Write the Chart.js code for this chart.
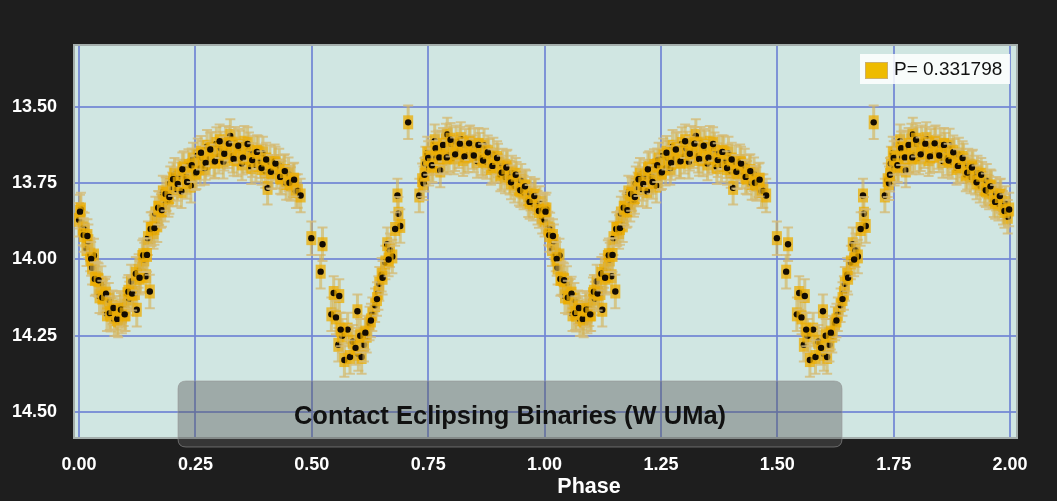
<!DOCTYPE html>
<html>
<head>
<meta charset="utf-8">
<script src="https://cdn.jsdelivr.net/npm/chart.js@4.4.0/dist/chart.umd.min.js"></script>
<style>
  html, body { margin: 0; padding: 0; background: #1e1e1e; }
  #wrap { width: 1057px; height: 501px; }
</style>
</head>
<body>
<div id="wrap"><canvas id="c" width="1057" height="501"></canvas></div>
<script>
// ---- Data (one cycle) ----
const phaseCycle = [
  0.000,0.004,0.008,0.012,0.016,0.020,0.024,0.028,0.032,0.036,
  0.040,0.044,0.048,0.052,0.056,0.060,0.064,0.068,0.072,0.076,
  0.080,0.084,0.088,0.092,0.096,0.100,0.104,0.108,0.112,0.116,
  0.120,0.124,0.128,0.132,0.136,0.140,0.144,0.148,0.152,0.156,
  0.160,0.164,0.168,0.172,0.176,0.180,0.184,0.188,0.192,0.196,
  0.200,0.205,0.210,0.215,0.220,0.225,0.230,0.235,0.240,0.245,
  0.250,0.255,0.260,0.265,0.270,0.275,0.280,0.285,0.290,0.295,
  0.300,0.305,0.310,0.315,0.320,0.325,0.330,0.335,0.340,0.345,
  0.350,0.355,0.360,0.365,0.370,0.375,0.380,0.385,0.390,0.395,
  0.400,0.405,0.410,0.415,0.420,0.425,0.430,0.435,0.440,0.445,
  0.450,0.455,0.460,0.466,0.470,0.476,
  0.499,0.519,0.523,0.542,0.547,0.557,0.559,0.565,0.570,0.577,
  0.588,0.598,0.600,0.607,0.612,0.618,0.624,0.630,0.636,0.643,
  0.645,0.650,0.658,0.662,0.668,0.673,0.684,0.686,0.690,0.707,
  0.731,0.737,
  0.740,0.744,0.748,0.752,0.756,0.760,0.764,0.768,0.772,0.776,
  0.780,0.784,0.788,0.791,0.795,0.800,0.805,0.810,0.815,0.820,
  0.825,0.830,0.835,0.840,0.845,0.850,0.855,0.860,0.865,0.870,
  0.875,0.880,0.885,0.890,0.895,0.900,0.905,0.910,0.915,0.920,
  0.925,0.930,0.935,0.940,0.945,0.950,0.955,0.960,0.965,0.970,
  0.975,0.980,0.985,0.990,0.995,
  0.002,0.010,0.018,0.026,0.034,0.042,0.050,0.058,0.066,0.074,
  0.082,0.090,0.098,0.106,0.114,0.122,0.130,0.138,0.146,0.154,
  0.162,0.170,0.178,0.186,0.194,0.202,0.212,0.222,0.232,0.242,
  0.252,0.262,0.272,0.282,0.292,0.302,0.312,0.322,0.332,0.342,
  0.352,0.362,0.372,0.382,0.392,0.402,0.412,0.422,0.432,0.442,
  0.452,0.462,
  0.552,0.562,0.582,0.594,0.604,0.615,0.627,0.640,0.652,0.665,
  0.679,
  0.742,0.750,0.758,0.766,0.774,0.782,0.790,0.798,0.808,0.818,
  0.828,0.838,0.848,0.858,0.868,0.878,0.888,0.898,0.908,0.918,
  0.928,0.938,0.948,0.958,0.968,0.978,0.988,0.998
];
const magCycle = [
  13.870,13.836,13.898,13.902,13.966,13.940,13.984,14.027,13.987,14.061,
  14.065,14.121,14.077,14.123,14.119,14.180,14.132,14.181,14.157,14.196,
  14.175,14.200,14.158,14.187,14.163,14.180,14.114,14.128,14.072,14.112,
  14.110,14.165,14.038,14.052,13.992,14.000,14.055,13.930,14.105,13.900,
  13.910,13.849,13.888,13.832,13.841,13.780,13.820,13.785,13.805,13.750,
  13.770,13.722,13.770,13.728,13.776,13.700,13.729,13.693,13.758,13.672,
  13.717,13.658,13.702,13.666,13.700,13.630,13.670,13.637,13.679,13.621,
  13.663,13.636,13.679,13.617,13.645,13.595,13.660,13.620,13.672,13.633,
  13.685,13.617,13.660,13.638,13.697,13.651,13.690,13.649,13.678,13.652,
  13.710,13.765,13.680,13.714,13.678,13.712,13.692,13.732,13.712,13.749,
  13.720,13.752,13.740,13.776,13.775,13.790,
  13.930,14.040,13.950,14.180,14.110,14.280,14.120,14.250,14.330,14.230,
  14.270,14.170,14.310,14.320,14.280,14.250,14.210,14.180,14.150,14.110,
  14.080,14.050,14.010,13.950,13.970,13.990,13.790,13.850,13.890,13.550,
  13.790,13.740,
  13.750,13.685,13.652,13.702,13.664,13.693,13.612,13.667,13.632,13.708,
  13.635,13.662,13.610,13.590,13.658,13.621,13.665,13.615,13.645,13.605,
  13.671,13.627,13.658,13.615,13.647,13.625,13.677,13.640,13.668,13.626,
  13.680,13.660,13.700,13.656,13.693,13.675,13.721,13.692,13.728,13.695,
  13.732,13.715,13.758,13.735,13.768,13.742,13.780,13.763,13.806,13.784,
  13.817,13.790,13.830,13.815,13.860,
  13.843,13.920,13.923,13.998,14.064,14.068,14.125,14.112,14.176,14.159,
  14.195,14.165,14.180,14.106,14.112,14.047,14.060,13.986,13.985,13.900,
  13.897,13.830,13.838,13.785,13.795,13.737,13.752,13.704,13.746,13.691,
  13.714,13.650,13.683,13.639,13.678,13.612,13.653,13.620,13.670,13.627,
  13.666,13.621,13.674,13.647,13.700,13.672,13.712,13.685,13.729,13.710,
  13.748,13.738,
  14.190,14.230,14.320,14.290,14.250,14.240,14.200,14.130,14.060,14.000,
  13.900,
  13.722,13.667,13.691,13.635,13.665,13.624,13.665,13.607,13.655,13.620,
  13.662,13.619,13.659,13.624,13.675,13.648,13.693,13.667,13.715,13.698,
  13.747,13.722,13.773,13.760,13.811,13.792,13.841,13.836
];
const cycleOffsets = [0, 1];
const magError = 0.055;
const xTicks = [0, 0.25, 0.5, 0.75, 1, 1.25, 1.5, 1.75, 2];
const yTicks = [13.5, 13.75, 14, 14.25, 14.5];
const seriesLabel = 'P= 0.331798';
const classLabel = 'Contact Eclipsing Binaries (W UMa)';
const xTitle = 'Phase';

const points = [];
cycleOffsets.forEach(off => {
  phaseCycle.forEach((p, i) => points.push({ x: p + off, y: magCycle[i] }));
});

const FONT = '"Liberation Sans", Arial, sans-serif';

const bgPlugin = {
  id: 'bg',
  beforeDraw(chart) {
    const { ctx, chartArea: a } = chart;
    ctx.save();
    ctx.fillStyle = '#1e1e1e';
    ctx.fillRect(0, 0, chart.width, chart.height);
    ctx.fillStyle = '#d0e6e2';
    ctx.fillRect(a.left, a.top, a.right - a.left, a.bottom - a.top);
    ctx.restore();
  },
  beforeDatasetsDraw(chart) {
    const { ctx, chartArea: a } = chart;
    ctx.save();
    ctx.strokeStyle = '#a4aeac';
    ctx.lineWidth = 2;
    ctx.strokeRect(a.left + 1, a.top + 1, a.right - a.left - 2, a.bottom - a.top - 2);
    ctx.restore();
  }
};

// draws each point's error bar, then the library's point element, in data order
const errPlugin = {
  id: 'errbars',
  beforeDatasetDraw(chart, args) {
    const { ctx } = chart;
    const ys = chart.scales.y;
    const a = chart.chartArea;
    const ds = chart.data.datasets[args.index];
    ctx.save();
    ctx.beginPath();
    ctx.rect(a.left, a.top, a.right - a.left, a.bottom - a.top);
    ctx.clip();
    args.meta.data.forEach((el, i) => {
      const v = ds.data[i].y;
      const px = el.x, py = el.y;
      const y1 = ys.getPixelForValue(v - magError);
      const y2 = ys.getPixelForValue(v + magError);
      ctx.strokeStyle = 'rgba(214,178,80,0.6)';
      ctx.lineWidth = 3;
      ctx.beginPath(); ctx.moveTo(px, y1); ctx.lineTo(px, y2); ctx.stroke();
      ctx.strokeStyle = 'rgba(212,188,120,0.8)';
      ctx.lineWidth = 2;
      ctx.beginPath();
      ctx.moveTo(px - 5, y1); ctx.lineTo(px + 5, y1);
      ctx.moveTo(px - 5, y2); ctx.lineTo(px + 5, y2);
      ctx.stroke();
      ctx.fillStyle = 'rgba(236,172,0,0.75)';
      ctx.fillRect(px - 5, py - 7, 10, 14);
      el.draw(ctx, a);
    });
    ctx.restore();
    return false;
  }
};

const overlayPlugin = {
  id: 'overlay',
  afterDraw(chart) {
    const { ctx } = chart;
    ctx.save();
    // class label box
    const bx = 178, by = 381, bw = 664, bh = 66, r = 8;
    ctx.beginPath();
    ctx.moveTo(bx + r, by);
    ctx.lineTo(bx + bw - r, by); ctx.quadraticCurveTo(bx + bw, by, bx + bw, by + r);
    ctx.lineTo(bx + bw, by + bh - r); ctx.quadraticCurveTo(bx + bw, by + bh, bx + bw - r, by + bh);
    ctx.lineTo(bx + r, by + bh); ctx.quadraticCurveTo(bx, by + bh, bx, by + bh - r);
    ctx.lineTo(bx, by + r); ctx.quadraticCurveTo(bx, by, bx + r, by);
    ctx.closePath();
    ctx.fillStyle = 'rgba(88,88,88,0.42)';
    ctx.fill();
    ctx.strokeStyle = 'rgba(150,150,150,0.6)';
    ctx.lineWidth = 1;
    ctx.stroke();
    ctx.fillStyle = '#111';
    ctx.font = 'bold 25.5px ' + FONT;
    ctx.textAlign = 'center';
    ctx.textBaseline = 'middle';
    ctx.fillText(classLabel, 510, 417);

    // legend
    ctx.fillStyle = 'rgba(255,255,255,0.85)';
    ctx.fillRect(860, 54, 150, 30);
    ctx.fillStyle = '#eebb00';
    ctx.fillRect(865, 62, 23, 17);
    ctx.strokeStyle = '#cdb06a';
    ctx.lineWidth = 1;
    ctx.strokeRect(865.5, 62.5, 22, 16);
    ctx.fillStyle = '#111';
    ctx.font = '19px ' + FONT;
    ctx.textAlign = 'left';
    ctx.fillText(chart.data.datasets[0].label, 894, 70);

    // x title
    ctx.fillStyle = '#ffffff';
    ctx.font = 'bold 21.5px ' + FONT;
    ctx.textAlign = 'center';
    ctx.fillText(xTitle, 589, 487);
    ctx.restore();
  }
};

new Chart(document.getElementById('c'), {
  type: 'scatter',
  data: {
    datasets: [{
      label: seriesLabel,
      data: points,
      pointRadius: 3.2,
      pointHoverRadius: 3.2,
      pointBackgroundColor: '#140c02',
      pointBorderWidth: 0,
      pointBorderColor: 'rgba(0,0,0,0)'
    }]
  },
  options: {
    responsive: false,
    animation: false,
    devicePixelRatio: 1,
    layout: { padding: { top: 44, right: 39, left: 0, bottom: 0 } },
    plugins: { legend: { display: false }, tooltip: { enabled: false } },
    scales: {
      x: {
        type: 'linear',
        min: -0.013, max: 2.017,
        afterBuildTicks: ax => { ax.ticks = xTicks.map(v => ({ value: v })); },
        afterFit: ax => { ax.height = 62; },
        grid: { color: 'rgba(112,132,212,0.85)', lineWidth: 2, drawTicks: false },
        border: { display: false },
        ticks: {
          color: '#ffffff', padding: 15,
          font: { family: FONT, size: 18, weight: 'bold' },
          callback: v => Number(v).toFixed(2),
          maxRotation: 0, autoSkip: false
        }
      },
      y: {
        type: 'linear',
        reverse: true,
        min: 13.293, max: 14.589,
        afterBuildTicks: ax => { ax.ticks = yTicks.map(v => ({ value: v })); },
        afterFit: ax => { ax.width = 73; },
        grid: { color: 'rgba(112,132,212,0.85)', lineWidth: 2, drawTicks: false },
        border: { display: false },
        ticks: {
          color: '#ffffff', padding: 16,
          font: { family: FONT, size: 18, weight: 'bold' },
          callback: v => Number(v).toFixed(2),
          autoSkip: false
        }
      }
    }
  },
  plugins: [bgPlugin, errPlugin, overlayPlugin]
});
</script>
</body>
</html>
